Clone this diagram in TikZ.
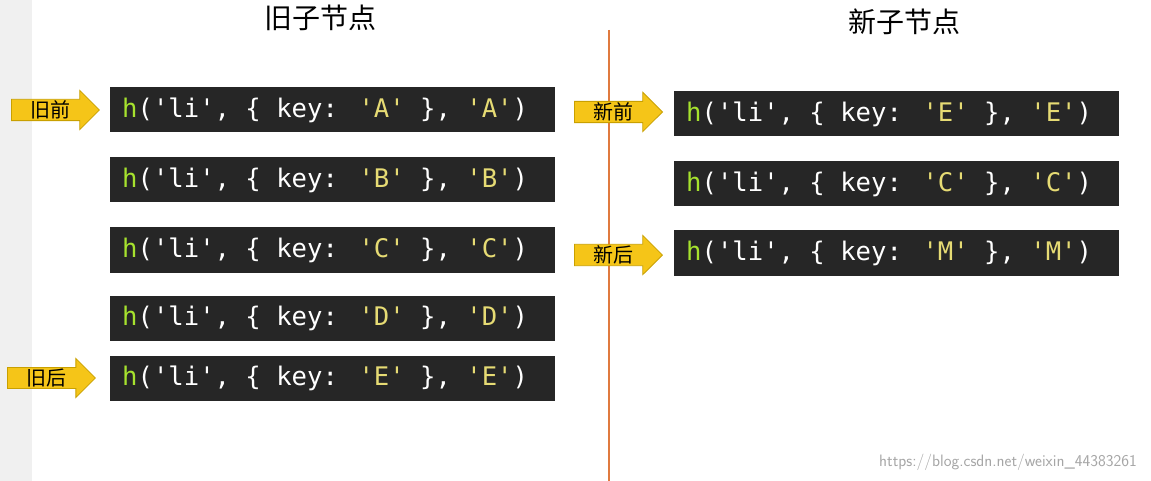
\documentclass[tikz,border=0pt]{standalone}
\usepackage{fontspec}
\newfontfamily\cjk{Noto Sans CJK SC}
\newfontfamily\code{DejaVu Sans Mono}
\usetikzlibrary{shapes.arrows}
\definecolor{boxbg}{HTML}{262626}
\definecolor{kgreen}{HTML}{A6E22E}
\definecolor{kstr}{HTML}{E6DB74}
\definecolor{arrowy}{HTML}{F5C518}
\definecolor{arrowe}{HTML}{C9A000}
\definecolor{vline}{HTML}{E07A3F}
\tikzset{
 codebox/.style={fill=boxbg,minimum width=445pt,minimum height=45pt,inner sep=0pt,anchor=west,text=white,font=\code\fontsize{25.6}{26}\selectfont,align=left},
 ptr/.style={single arrow,fill=arrowy,draw=arrowe,line width=0.8pt,minimum height=88pt,single arrow head extend=9pt,minimum width=25pt,inner sep=1pt,font=\cjk\fontsize{20}{20}\selectfont,text=black},
 title/.style={font=\cjk\fontsize{28}{28}\selectfont}
}
\newcommand{\cl}[1]{\makebox[445pt][l]{\hspace{12pt}\textcolor{kgreen}{h}('li', \{ key: \textcolor{kstr}{'#1'} \}, \textcolor{kstr}{'#1'})}}
\begin{document}
\begin{tikzpicture}[x=1pt,y=-1pt]
\useasboundingbox (0,0) rectangle (1151,481);
\fill[white] (0,0) rectangle (1151,481);
\fill[black!6] (0,0) rectangle (32,481);
\node[title] (t1) at (320,18) {旧子节点};
\node[title] (t2) at (904,22) {新子节点};
\draw[vline,line width=1.2pt] (609,30) coordinate (v1) -- (609,481) coordinate (v2);
\node[codebox] (oA) at (110,110) {\cl{A}};
\node[codebox] (oB) at (110,180) {\cl{B}};
\node[codebox] (oC) at (110,250) {\cl{C}};
\node[codebox] (oD) at (110,318) {\cl{D}};
\node[codebox] (oE) at (110,378) {\cl{E}};
\node[codebox] (nE) at (674,114) {\cl{E}};
\node[codebox] (nC) at (674,184) {\cl{C}};
\node[codebox] (nM) at (674,253) {\cl{M}};
\node[ptr,anchor=east] (a1) at (100,110) {旧前\hspace{28pt}};
\node[ptr,anchor=east] (a2) at (96,378) {旧后\hspace{28pt}};
\node[ptr,anchor=east] (a3) at (663,112) {新前\hspace{28pt}};
\node[ptr,anchor=east] (a4) at (663,255) {新后\hspace{28pt}};
\node[text=black!35,font=\fontsize{16.5}{16.5}\selectfont\sffamily] (wm) at (1008,462) {https://blog.csdn.net/weixin\_44383261};
\end{tikzpicture}
\end{document}
